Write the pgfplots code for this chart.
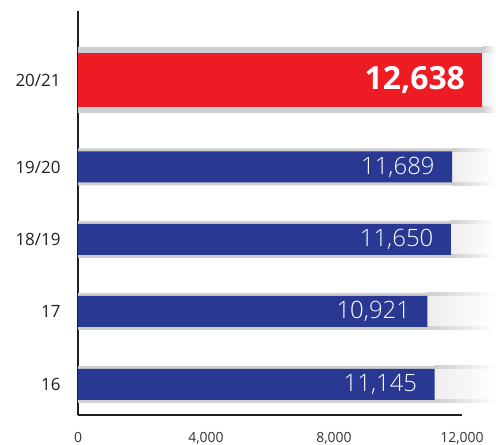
\documentclass[border=0pt]{standalone}
\usepackage{pgfplots}
\pgfplotsset{compat=1.18}
\usepackage{fontspec}
\setmainfont{Open Sans}
\newfontfamily\lightfont{Open Sans Light}
\definecolor{barblue}{RGB}{41,56,146}
\definecolor{barred}{RGB}{237,28,36}
\definecolor{shadowgray}{RGB}{206,206,206}
\definecolor{innergray}{RGB}{238,238,238}
\definecolor{axisblack}{RGB}{35,31,32}
\begin{document}
\begin{tikzpicture}
\path[use as bounding box] (0bp,0bp) rectangle (496bp,445bp);
\begin{axis}[
  at={(78bp,30bp)}, anchor=south west,
  scale only axis, width=384bp, height=404bp,
  xmin=0, xmax=12000, ymin=30, ymax=434,
  clip=false,
  axis lines=left,
  axis line style={-, line width=1.8bp, draw=axisblack},
  major tick length=0pt,
  xtick={0,4000,8000,12000},
  xticklabels={0,{4,000},{8,000},{12,000}},
  xticklabel style={font=\fontsize{14}{16}\selectfont, text=black!80, yshift=-14bp},
  ytick={60.5,133.5,205.5,278,365},
  yticklabels={16,17,18/19,19/20,20/21},
  yticklabel style={font=\fontsize{17}{19}\selectfont, text=axisblack, xshift=-14bp},
]
% shadows (solid part)
\addplot[xbar, bar width=37, bar shift=0pt, fill=shadowgray, draw=none]
  coordinates {(11145,60.5) (10921,133.5) (11650,205.5) (11689,278)};
\addplot[xbar, bar width=66, bar shift=0pt, fill=shadowgray, draw=none]
  coordinates {(12638,365)};
% shadows (fading part, outer bands)
\addplot[draw=none, left color=shadowgray, right color=white]
  coordinates {(11145,42) (13060,42) (13060,79) (11145,79)} -- cycle;
\addplot[draw=none, left color=shadowgray, right color=white]
  coordinates {(10921,115) (13060,115) (13060,152) (10921,152)} -- cycle;
\addplot[draw=none, left color=shadowgray, right color=white]
  coordinates {(11650,187) (13060,187) (13060,224) (11650,224)} -- cycle;
\addplot[draw=none, left color=shadowgray, right color=white]
  coordinates {(11689,259.5) (13060,259.5) (13060,296.5) (11689,296.5)} -- cycle;
\addplot[draw=none, left color=shadowgray, right color=white]
  coordinates {(12638,332) (13060,332) (13060,398) (12638,398)} -- cycle;
% shadows (fading part, inner light area)
\addplot[draw=none, left color=innergray, right color=white]
  coordinates {(11145,46) (13060,46) (13060,75) (11145,75)} -- cycle;
\addplot[draw=none, left color=innergray, right color=white]
  coordinates {(10921,119) (13060,119) (13060,148) (10921,148)} -- cycle;
\addplot[draw=none, left color=innergray, right color=white]
  coordinates {(11650,191) (13060,191) (13060,220) (11650,220)} -- cycle;
\addplot[draw=none, left color=innergray, right color=white]
  coordinates {(11689,263.5) (13060,263.5) (13060,292.5) (11689,292.5)} -- cycle;
\addplot[draw=none, left color=innergray, right color=white]
  coordinates {(12638,339) (13060,339) (13060,391) (12638,391)} -- cycle;
% bars
\addplot[xbar, bar width=31, bar shift=0pt, fill=barblue, draw=none,
  point meta=explicit symbolic, nodes near coords,
  nodes near coords style={anchor=east, xshift=-14bp, text=white,
    font=\lightfont\fontsize{24}{26}\selectfont}]
  coordinates {(11145,60.5) [{11,145}] (10921,133.5) [{10,921}] (11650,205.5) [{11,650}] (11689,278) [{11,689}]};
\addplot[xbar, bar width=54, bar shift=0pt, fill=barred, draw=none,
  point meta=explicit symbolic, nodes near coords,
  nodes near coords style={anchor=east, xshift=-14bp, text=white,
    font=\bfseries\fontsize{32}{34}\selectfont}]
  coordinates {(12638,365) [{12,638}]};
\end{axis}
\end{tikzpicture}
\end{document}
